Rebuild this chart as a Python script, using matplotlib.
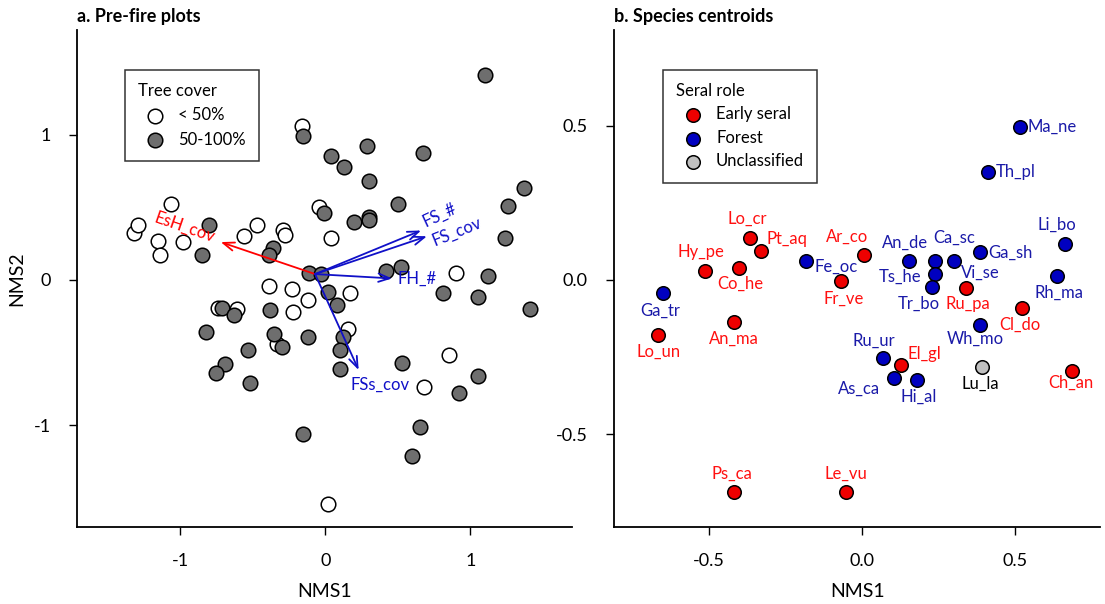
import numpy as np
import matplotlib.pyplot as plt

plt.rcParams['font.family'] = ['Lato', 'DejaVu Sans']
plt.rcParams['axes.unicode_minus'] = False

# ---------------- a. pre-fire plots (NMS scores) ----------------
open_x = [-1.32, -1.29, -1.15, -1.14, -1.06, -0.98, -0.56, -0.47, -0.29, -0.28,
          -0.16, -0.04, 0.04, 0.90, -0.39, -0.23, -0.12, 0.17, -0.74, -0.61,
          -0.22, -0.33, 0.16, 0.85, 0.68, 0.02]
open_y = [0.32, 0.38, 0.27, 0.17, 0.52, 0.26, 0.30, 0.38, 0.34, 0.31,
          1.06, 0.50, 0.29, 0.05, -0.04, -0.06, -0.14, -0.09, -0.19, -0.20,
          -0.22, -0.44, -0.34, -0.52, -0.74, -1.54]

gray_x = [-0.80, -0.85, -0.36, -0.39, -0.15, 0.04, 0.13, 0.29, 0.67, 0.30,
          1.10, 1.37, 1.26, 0.50, -0.01, 0.20, 0.30, 0.30, 1.24, -0.11,
          -0.03, 0.42, 0.52, 1.12, 0.02, 0.08, 0.81, 1.05, 1.41, -0.71,
          -0.63, -0.38, -0.82, -0.35, -0.30, -0.12, 0.12, 0.10, 0.10, -0.53,
          -0.69, -0.75, -0.52, -0.15, 0.53, 1.05, 0.92, 0.65, 0.60]
gray_y = [0.38, 0.17, 0.22, 0.17, 0.99, 0.85, 0.78, 0.92, 0.87, 0.68,
          1.41, 0.63, 0.51, 0.52, 0.46, 0.40, 0.43, 0.41, 0.29, 0.05,
          0.04, 0.06, 0.09, 0.03, -0.08, -0.17, -0.09, -0.12, -0.20, -0.19,
          -0.24, -0.21, -0.36, -0.37, -0.46, -0.39, -0.39, -0.48, -0.61, -0.48,
          -0.58, -0.64, -0.71, -1.06, -0.57, -0.66, -0.78, -1.01, -1.21]

# biplot vectors (origin + tips)
vec_origin = (-0.07, 0.04)
vec_names = ['EsH_cov', 'FS_#', 'FS_cov', 'FH_#', 'FSs_cov']
vec_x = [-0.72, 0.66, 0.70, 0.46, 0.23]
vec_y = [0.26, 0.34, 0.30, 0.01, -0.62]
vec_col = ['red', '#1010c8', '#1010c8', '#1010c8', '#1010c8']

# ---------------- b. species centroids ----------------
sp_names = ['Lo_cr', 'Pt_aq', 'Hy_pe', 'Co_he', 'Fe_oc', 'Ar_co', 'Fr_ve', 'Ga_tr',
            'Lo_un', 'An_ma', 'Ps_ca', 'Le_vu', 'Ma_ne', 'Th_pl', 'Li_bo', 'Ga_sh',
            'An_de', 'Ca_sc', 'Vi_se', 'Ts_he', 'Tr_bo', 'Ru_pa', 'Rh_ma', 'Cl_do',
            'Wh_mo', 'Ru_ur', 'El_gl', 'As_ca', 'Hi_al', 'Lu_la', 'Ch_an']
sp_x = [-0.364, -0.331, -0.513, -0.403, -0.182, 0.006, -0.068, -0.649,
        -0.666, -0.419, -0.419, -0.052, 0.516, 0.412, 0.666, 0.386,
        0.156, 0.240, 0.302, 0.240, 0.231, 0.341, 0.640, 0.523,
        0.386, 0.071, 0.130, 0.104, 0.182, 0.393, 0.688]
sp_y = [0.136, 0.094, 0.029, 0.039, 0.062, 0.081, -0.003, -0.042,
        -0.179, -0.136, -0.688, -0.688, 0.497, 0.351, 0.117, 0.091,
        0.062, 0.062, 0.062, 0.019, -0.023, -0.026, 0.013, -0.091,
        -0.146, -0.253, -0.276, -0.318, -0.325, -0.282, -0.295]
sp_role = ['E', 'E', 'E', 'E', 'F', 'E', 'E', 'F',
           'E', 'E', 'E', 'E', 'F', 'F', 'F', 'F',
           'F', 'F', 'F', 'F', 'F', 'E', 'F', 'E',
           'F', 'F', 'E', 'F', 'F', 'U', 'E']

fill_col = {'E': '#ee0000', 'F': '#0000c0', 'U': '#c0c0c0'}
text_col = {'E': '#ff1010', 'F': '#1a1aa8', 'U': 'black'}

# label offsets in points (dx, dy, ha, va)
lab_off = {
    'Lo_cr': (-2, 8, 'center', 'bottom'), 'Pt_aq': (4, 3, 'left', 'bottom'),
    'Hy_pe': (-3, 8, 'center', 'bottom'), 'Co_he': (1, -6, 'center', 'top'),
    'Fe_oc': (6, -4, 'left', 'center'), 'Ar_co': (-12, 7, 'center', 'bottom'),
    'Fr_ve': (2, -7, 'center', 'top'), 'Ga_tr': (-2, -7, 'center', 'top'),
    'Lo_un': (0, -6, 'center', 'top'), 'An_ma': (0, -6, 'center', 'top'),
    'Ps_ca': (-1, 8, 'center', 'bottom'), 'Le_vu': (0, 8, 'center', 'bottom'),
    'Ma_ne': (6, 0, 'left', 'center'), 'Th_pl': (6, 0, 'left', 'center'),
    'Li_bo': (-6, 8, 'center', 'bottom'), 'Ga_sh': (6, -1, 'left', 'center'),
    'An_de': (-3, 7, 'center', 'bottom'), 'Ca_sc': (14, 11, 'center', 'bottom'),
    'Vi_se': (5, -3, 'left', 'top'), 'Ts_he': (-25, -2, 'center', 'center'),
    'Tr_bo': (-10, -6, 'center', 'top'), 'Ru_pa': (1, -6, 'center', 'top'),
    'Rh_ma': (1, -6, 'center', 'top'), 'Cl_do': (-1, -6, 'center', 'top'),
    'Wh_mo': (-3, -4, 'center', 'top'), 'Ru_ur': (-7, 7, 'center', 'bottom'),
    'El_gl': (4, 2, 'left', 'bottom'), 'As_ca': (-25, -2, 'center', 'top'),
    'Hi_al': (1, -6, 'center', 'top'), 'Lu_la': (-1, -6, 'center', 'top'),
    'Ch_an': (-1, -3, 'center', 'top'),
}

fig = plt.figure(figsize=(11.05, 6.04), dpi=100)
ax1 = fig.add_axes([0.0697, 0.1275, 0.448, 0.823])
ax2 = fig.add_axes([0.5557, 0.1275, 0.44, 0.823])

for ax in (ax1, ax2):
    ax.spines['top'].set_visible(False)
    ax.spines['right'].set_visible(False)
    ax.spines['left'].set_linewidth(1.3)
    ax.spines['bottom'].set_linewidth(1.3)
    ax.tick_params(direction='out', length=6, width=1, labelsize=13, pad=13)
    ax.set_xlabel('NMS1', fontsize=14, labelpad=10)

# panel a
ax1.scatter(open_x, open_y, s=110, facecolor='white', edgecolor='black', linewidth=1.1, zorder=3)
ax1.scatter(gray_x, gray_y, s=110, facecolor='#6e6e6e', edgecolor='black', linewidth=1.1, zorder=3)
for vx, vy, c in zip(vec_x, vec_y, vec_col):
    ax1.annotate('', xy=(vx, vy), xytext=vec_origin,
                 arrowprops=dict(arrowstyle='->,head_length=0.8,head_width=0.3', color=c, lw=1.3,
                                 shrinkA=0, shrinkB=0), zorder=4)
ax1.text(-0.97, 0.36, 'EsH_cov', color='red', fontsize=12, rotation=-19, ha='center', va='center', zorder=5)
ax1.text(0.79, 0.45, 'FS_#', color='#1010c8', fontsize=12, rotation=25, ha='center', va='center', zorder=5)
ax1.text(0.91, 0.33, 'FS_cov', color='#1010c8', fontsize=12, rotation=22, ha='center', va='center', zorder=5)
ax1.text(0.50, 0.01, 'FH_#', color='#1010c8', fontsize=12, ha='left', va='center', zorder=5)
ax1.text(0.38, -0.72, 'FSs_cov', color='#1010c8', fontsize=12, ha='center', va='center', zorder=5)

ax1.set_xlim(-1.71, 1.70)
ax1.set_ylim(-1.70, 1.72)
ax1.set_xticks([-1, 0, 1])
ax1.set_yticks([-1, 0, 1])
ax1.set_ylabel('NMS2', fontsize=14)
ax1.yaxis.set_label_coords(-0.104, 0.5)
ax1.set_title('a. Pre-fire plots', loc='left', fontsize=13, fontweight='bold', pad=6)

h1 = ax1.scatter([], [], s=110, facecolor='white', edgecolor='black', linewidth=1.1)
h2 = ax1.scatter([], [], s=110, facecolor='#6e6e6e', edgecolor='black', linewidth=1.1)
leg1 = ax1.legend([h1, h2], ['< 50%', '50-100%'], title='Tree cover', loc='upper left',
                  bbox_to_anchor=(0.097, 0.92), borderaxespad=0, fontsize=12, title_fontsize=12,
                  frameon=True, fancybox=False, edgecolor='black', borderpad=0.8,
                  handletextpad=0.4, labelspacing=0.5)
leg1.get_frame().set_linewidth(1.1)
leg1._legend_box.align = 'left'

# panel b
for nm, x, y, r in zip(sp_names, sp_x, sp_y, sp_role):
    ax2.scatter(x, y, s=95, facecolor=fill_col[r], edgecolor='black', linewidth=1.1, zorder=3)
    dx, dy, ha, va = lab_off[nm]
    ax2.annotate(nm, (x, y), xytext=(dx, dy), textcoords='offset points',
                 ha=ha, va=va, color=text_col[r], fontsize=12)

ax2.set_xlim(-0.81, 0.78)
ax2.set_ylim(-0.80, 0.81)
ax2.set_xticks([-0.5, 0.0, 0.5])
ax2.set_yticks([-0.5, 0.0, 0.5])
ax2.set_xticklabels(['-0.5', '0.0', '0.5'])
ax2.set_yticklabels(['-0.5', '0.0', '0.5'])
ax2.set_title('b. Species centroids', loc='left', fontsize=13, fontweight='bold', pad=6)

hs = [ax2.scatter([], [], s=95, facecolor=fill_col[k], edgecolor='black', linewidth=1.1) for k in 'EFU']
leg2 = ax2.legend(hs, ['Early seral', 'Forest', 'Unclassified'], title='Seral role', loc='upper left',
                  bbox_to_anchor=(0.10, 0.92), borderaxespad=0, fontsize=12, title_fontsize=12,
                  frameon=True, fancybox=False, edgecolor='black', borderpad=0.8,
                  handletextpad=0.4, labelspacing=0.45)
leg2.get_frame().set_linewidth(1.1)
leg2._legend_box.align = 'left'

fig.savefig('out.png', dpi=100)
